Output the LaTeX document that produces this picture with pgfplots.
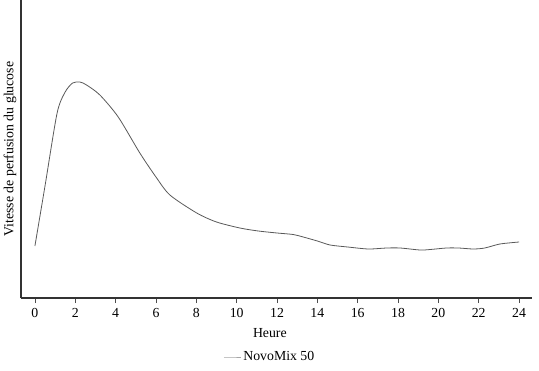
\documentclass[border=0pt]{standalone}
\usepackage{pgfplots}
\pgfplotsset{compat=1.18}
\usepackage{fontspec}
\setmainfont{Liberation Serif}
\begin{document}
\fontsize{13.8bp}{16bp}\selectfont
\begin{tikzpicture}
\path[use as bounding box] (-21bp,-73bp) rectangle (518bp,298bp);
\begin{axis}[
  scale only axis,
  width=511bp, height=298bp,
  xmin=-0.69, xmax=24.64,
  ymin=0, ymax=298,
  axis x line=bottom, axis y line=left,
  axis line style={-, draw=black!80, line width=1.2bp},
  xtick={0,2,...,24},
  ytick=\empty,
  tick align=outside,
  major tick length=5bp,
  xtick style={draw=black!70, line width=0.6bp},
  x tick label style={yshift=-1bp},
  /pgf/number format/assume math mode=true,
  xlabel={Heure},
  ylabel={Vitesse de perfusion du glucose},
  xlabel style={at={(axis description cs:0.487,-0.1174)}, anchor=center},
  ylabel style={at={(axis description cs:-0.0215,0.5)}, anchor=center},
  legend style={draw=none, fill=none, at={(axis description cs:0.487,-0.198)}, anchor=center, font=\fontsize{13.8bp}{16bp}\selectfont},
  legend cell align=left,
  clip=false,
]
\addplot[smooth, tension=0.45, color=black!65, line width=0.8bp, forget plot] coordinates {
(0,52) (0.5,112) (1.1,185) (1.5,206) (1.87,215) (2.23,216) (2.56,213)
(3.22,203) (4.13,181) (5.2,145) (6,121) (6.69,103) (8.02,85) (9,76)
(10.16,70) (11.07,67) (12,65) (12.8,63.5) (13.3,61) (14,57) (14.63,53) (15.5,51)
(16.53,49) (17.43,50) (18.1,50) (19.09,48) (19.6,48.5) (20.4,50) (21,50)
(21.73,49) (22.3,50) (23.05,54) (24,56)
};
\addlegendimage{color=black!35, line width=0.9bp}
\addlegendentry{NovoMix 50}
\end{axis}
\end{tikzpicture}
\end{document}
